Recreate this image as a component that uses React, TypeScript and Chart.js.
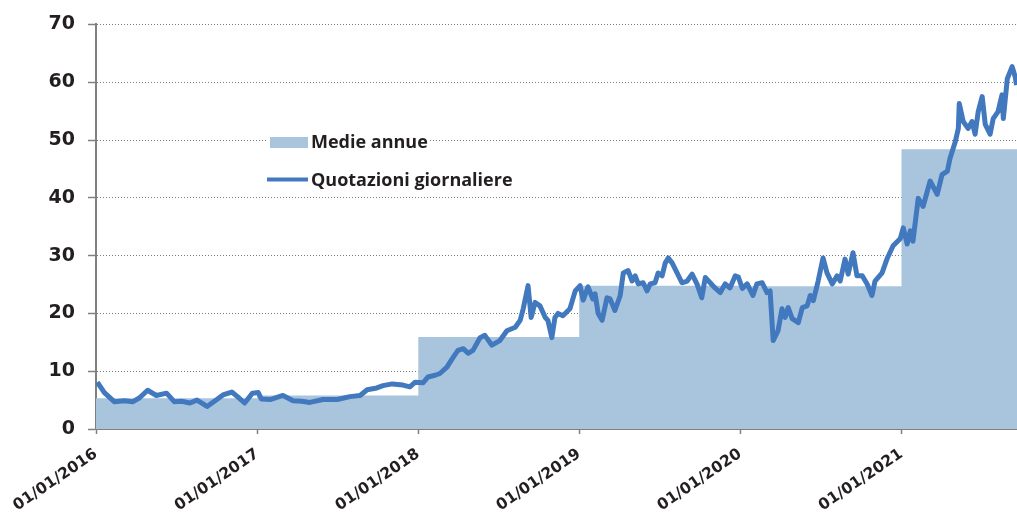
import React, { useEffect, useRef } from 'react';
import { Chart, registerables } from 'chart.js';

Chart.register(...registerables);

// ---- Data ----
const yearStarts = ['2016-01-01', '2017-01-01', '2018-01-01', '2019-01-01', '2020-01-01', '2021-01-01'];
const xTickLabels = ['01/01/2016', '01/01/2017', '01/01/2018', '01/01/2019', '01/01/2020', '01/01/2021'];
const annualAverages = [5.3, 5.8, 15.9, 24.8, 24.7, 48.4];
const axisEnd = '2021-09-20';

const dailyDates = [
  '2016-01-04', '2016-01-20', '2016-02-12', '2016-03-06', '2016-03-24', '2016-04-09', '2016-04-27', '2016-05-17',
  '2016-06-09', '2016-06-27', '2016-07-13', '2016-08-01', '2016-08-17', '2016-09-09', '2016-10-01', '2016-10-15',
  '2016-11-04', '2016-11-17', '2016-12-03', '2016-12-21',
  '2017-01-03', '2017-01-10', '2017-01-30', '2017-02-28', '2017-03-23', '2017-04-12', '2017-04-30', '2017-05-30',
  '2017-07-01', '2017-07-30', '2017-08-22', '2017-09-07', '2017-09-29', '2017-10-13', '2017-11-03', '2017-11-27',
  '2017-12-13', '2017-12-25',
  '2018-01-12', '2018-01-23', '2018-02-08', '2018-02-19', '2018-03-07', '2018-03-21', '2018-04-01', '2018-04-13',
  '2018-04-24', '2018-05-05', '2018-05-21', '2018-06-01', '2018-06-17', '2018-07-05', '2018-07-21', '2018-08-09',
  '2018-08-20', '2018-08-27', '2018-09-07', '2018-09-14', '2018-09-23', '2018-10-04', '2018-10-16', '2018-10-22',
  '2018-10-31', '2018-11-07', '2018-11-14', '2018-11-25', '2018-12-11', '2018-12-23',
  '2019-01-03', '2019-01-10', '2019-01-21', '2019-02-01', '2019-02-06', '2019-02-13', '2019-02-22', '2019-03-05',
  '2019-03-12', '2019-03-23', '2019-04-04', '2019-04-11', '2019-04-22', '2019-05-01', '2019-05-08', '2019-05-15',
  '2019-05-26', '2019-06-04', '2019-06-11', '2019-06-22', '2019-06-29', '2019-07-08', '2019-07-15', '2019-07-22',
  '2019-07-31', '2019-08-11', '2019-08-22', '2019-09-03', '2019-09-14', '2019-09-25', '2019-10-06', '2019-10-14',
  '2019-10-25', '2019-11-05', '2019-11-17', '2019-11-28', '2019-12-09', '2019-12-21', '2019-12-28',
  '2020-01-06', '2020-01-17', '2020-01-30', '2020-02-08', '2020-02-20', '2020-03-02', '2020-03-09', '2020-03-16',
  '2020-03-27', '2020-04-05', '2020-04-12', '2020-04-19', '2020-04-28', '2020-05-12', '2020-05-21', '2020-06-01',
  '2020-06-08', '2020-06-15', '2020-06-26', '2020-07-07', '2020-07-16', '2020-07-28', '2020-08-08', '2020-08-15',
  '2020-08-26', '2020-09-02', '2020-09-13', '2020-09-22', '2020-10-04', '2020-10-15', '2020-10-26', '2020-11-02',
  '2020-11-18', '2020-11-29', '2020-12-13', '2020-12-29',
  '2021-01-05', '2021-01-14', '2021-01-21', '2021-01-27', '2021-02-08', '2021-02-19', '2021-03-07', '2021-03-23',
  '2021-04-03', '2021-04-15', '2021-04-21', '2021-05-03', '2021-05-10', '2021-05-12', '2021-05-21', '2021-06-01',
  '2021-06-10', '2021-06-17', '2021-06-24', '2021-07-03', '2021-07-10', '2021-07-21', '2021-07-28', '2021-08-08',
  '2021-08-17', '2021-08-20', '2021-08-29', '2021-09-09', '2021-09-16', '2021-09-19',
];

const dailyValues = [
  8.1, 6.3, 4.7, 4.9, 4.7, 5.4, 6.7, 5.8,
  6.2, 4.7, 4.8, 4.5, 5.0, 3.9, 5.1, 5.9,
  6.4, 5.6, 4.5, 6.2,
  6.3, 5.2, 5.1, 5.8, 4.9, 4.8, 4.6, 5.1,
  5.1, 5.6, 5.8, 6.8, 7.1, 7.5, 7.8, 7.6,
  7.3, 8.1,
  8.0, 9.0, 9.3, 9.6, 10.7, 12.4, 13.6, 13.9,
  13.1, 13.6, 15.8, 16.2, 14.5, 15.3, 17.0, 17.6,
  18.8, 20.8, 24.8, 19.3, 21.9, 21.3, 19.3, 18.8,
  15.8, 19.3, 20.0, 19.6, 20.8, 23.9,
  24.8, 22.3, 24.6, 22.5, 23.4, 20.0, 18.8, 22.7,
  22.5, 20.5, 23.1, 27.0, 27.4, 25.6, 26.5, 25.1,
  25.3, 23.9, 25.1, 25.3, 27.0, 26.5, 28.7, 29.6,
  28.7, 27.0, 25.3, 25.6, 26.8, 25.1, 22.7, 26.2,
  25.3, 24.4, 23.6, 25.1, 24.4, 26.5, 26.3,
  24.3, 25.1, 23.1, 25.1, 25.3, 23.6, 23.9, 15.3,
  17.0, 20.8, 19.3, 21.0, 19.1, 18.4, 21.0, 21.3,
  23.1, 22.2, 25.6, 29.6, 27.0, 25.1, 26.5, 25.6,
  29.4, 26.8, 30.5, 26.5, 26.5, 25.1, 23.1, 25.6,
  27.0, 29.4, 31.7, 32.9,
  34.8, 32.0, 34.3, 32.5, 39.9, 38.5, 42.9, 40.6,
  44.0, 44.6, 46.8, 49.7, 52.0, 56.3, 53.2, 52.0,
  53.2, 51.0, 54.9, 57.5, 52.7, 51.0, 53.7, 54.9,
  57.8, 53.7, 60.6, 62.7, 60.9, 59.5,
];

const yTickStep = 10;
const yMin = 0;
const yMax = 70;

const legendLabels = ['Medie annue', 'Quotazioni giornaliere'];

// ---- Helpers ----
const dayOf = (s: string) => {
  const [y, m, d] = s.split('-').map(Number);
  return (Date.UTC(y, m - 1, d) - Date.UTC(2016, 0, 1)) / 86400000;
};

const AREA_COLOR = '#a9c5de';
const LINE_COLOR = '#4279be';
const AXIS_COLOR = '#808080';
const TEXT_COLOR = '#231f20';

const insideLegend = {
  id: 'insideLegend',
  afterDatasetsDraw(chart: any) {
    const ctx = chart.ctx;
    ctx.save();
    ctx.font = 'bold 18px "Open Sans"';
    const w0 = ctx.measureText(legendLabels[0]).width;
    ctx.fillStyle = '#ffffff';
    ctx.fillRect(268, 130, 311 - 268 + w0 + 2, 22);
    // area swatch
    ctx.fillStyle = AREA_COLOR;
    ctx.fillRect(270, 137, 38, 11);
    // line swatch
    ctx.strokeStyle = LINE_COLOR;
    ctx.lineWidth = 4;
    ctx.lineCap = 'butt';
    ctx.beginPath();
    ctx.moveTo(267, 179.5);
    ctx.lineTo(308, 179.5);
    ctx.stroke();
    ctx.fillStyle = TEXT_COLOR;
    ctx.textBaseline = 'alphabetic';
    ctx.textAlign = 'left';
    ctx.fillText(legendLabels[0], 311, 148);
    ctx.fillText(legendLabels[1], 311, 186);
    ctx.restore();
  },
};

export default function App() {
  const canvasRef = useRef<HTMLCanvasElement | null>(null);

  useEffect(() => {
    if (!canvasRef.current) return;
    const yearDays = yearStarts.map(dayOf);
    const endDay = dayOf(axisEnd);

    const areaData = yearDays.map((d, i) => ({ x: d, y: annualAverages[i] }));
    areaData.push({ x: endDay, y: annualAverages[annualAverages.length - 1] });

    const lineData = dailyDates.map((d, i) => ({ x: dayOf(d), y: dailyValues[i] }));

    const chart = new Chart(canvasRef.current, {
      type: 'line',
      data: {
        datasets: [
          {
            label: legendLabels[1],
            data: lineData,
            borderColor: LINE_COLOR,
            borderWidth: 5,
            pointRadius: 0,
            tension: 0,
            fill: false,
            order: 0,
            borderJoinStyle: 'round',
          },
          {
            label: legendLabels[0],
            data: areaData,
            stepped: 'before',
            borderWidth: 0,
            borderColor: AREA_COLOR,
            backgroundColor: AREA_COLOR,
            fill: 'origin',
            pointRadius: 0,
            order: 1,
          },
        ],
      },
      options: {
        animation: false,
        responsive: false,
        layout: { padding: { top: 22, left: 0, right: 0, bottom: 0 } },
        plugins: { legend: { display: false }, tooltip: { enabled: false } },
        scales: {
          x: {
            type: 'linear',
            min: 0,
            max: endDay,
            afterBuildTicks: (scale: any) => {
              scale.ticks = yearDays.map((v) => ({ value: v }));
            },
            afterFit: (scale: any) => {
              scale.height = 84;
            },
            ticks: {
              autoSkip: false,
              minRotation: 34,
              maxRotation: 34,
              padding: 11,
              color: TEXT_COLOR,
              font: { family: 'DejaVu Sans', weight: 'bold', size: 15.5 },
              callback: (_v: any, i: number) => xTickLabels[i],
            },
            grid: {
              drawOnChartArea: false,
              drawTicks: true,
              tickLength: 5,
              tickColor: AXIS_COLOR,
              tickWidth: 1.5,
            },
            border: { color: AXIS_COLOR, width: 2 },
          },
          y: {
            min: yMin,
            max: yMax,
            afterFit: (scale: any) => {
              scale.width = 96;
            },
            ticks: {
              stepSize: yTickStep,
              padding: 13,
              color: TEXT_COLOR,
              font: { family: 'DejaVu Sans', weight: 'bold', size: 19 },
            },
            grid: {
              color: '#7a7a7a',
              lineWidth: 1,
              tickLength: 8,
              tickColor: AXIS_COLOR,
              tickWidth: 1.5,
              tickBorderDash: [],
            },
            border: { color: AXIS_COLOR, width: 2, dash: [1, 2] },
          },
        },
      },
      plugins: [insideLegend],
    } as any);

    return () => chart.destroy();
  }, []);

  return (
    <div style={{ position: 'absolute', left: 0, top: 0, width: 1017, height: 513, background: '#fff' }}>
      <canvas ref={canvasRef} width={1017} height={513} style={{ display: 'block' }} />
    </div>
  );
}
